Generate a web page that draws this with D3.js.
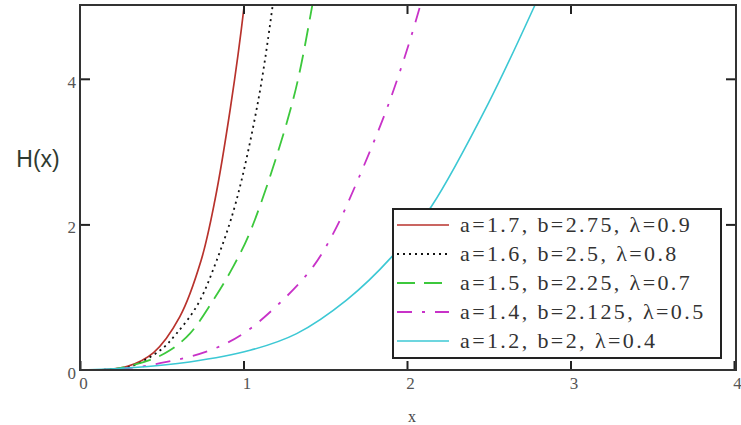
<!DOCTYPE html>
<html>
<head>
<meta charset="utf-8">
<script src="https://cdn.jsdelivr.net/npm/d3@7"></script>
<style>
  html, body { margin: 0; padding: 0; background: #fff; }
  svg { display: block; }
</style>
</head>
<body>
<svg id="chart" width="741" height="425"></svg>
<script>
// ---- data ----
const xTicks = [0, 1, 2, 3, 4];
const yTicks = [0, 2, 4];
const seriesLabels = [
  "a=1.7, b=2.75, \u03bb=0.9",
  "a=1.6, b=2.5, \u03bb=0.8",
  "a=1.5, b=2.25, \u03bb=0.7",
  "a=1.4, b=2.125, \u03bb=0.5",
  "a=1.2, b=2, \u03bb=0.4"
];
const red = [[0,0],[0.15,0.005],[0.29,0.05],[0.45,0.24],[0.61,0.73],[0.74,1.50],[0.825,2.33],[0.92,3.60],[1.004,5.0],[1.03,5.6]];
const black = [[0,0],[0.15,0.004],[0.3,0.04],[0.49,0.27],[0.59,0.50],[0.72,0.90],[0.835,1.50],[0.952,2.29],[1.09,3.70],[1.178,5.0],[1.2,5.4]];
const green = [[0,0],[0.2,0.01],[0.43,0.14],[0.55,0.27],[0.672,0.50],[0.815,0.96],[0.937,1.42],[1.05,1.95],[1.302,3.70],[1.42,5.0],[1.45,5.4]];
const magenta = [[0,0],[0.25,0.015],[0.53,0.11],[0.795,0.27],[0.998,0.50],[1.222,0.92],[1.426,1.42],[1.55,1.88],[1.645,2.33],[1.895,3.70],[2.08,5.0],[2.11,5.3]];
const cyan = [[0,0],[0.31,0.03],[0.67,0.11],[1.04,0.27],[1.325,0.50],[1.63,0.96],[1.905,1.55],[2.15,2.25],[2.506,3.70],[2.78,5.0],[2.82,5.2]];

const seriesData = [red, black, green, magenta, cyan];
const colors = ["#b8322c", "#111111", "#3cc83c", "#c832c8", "#3cc8d4"];
const dashes = [null, "2,4", "18,9", "15,10,3,10", null];
const widths = [1.7, 1.8, 1.8, 1.8, 1.6];

// ---- layout ----
const svg = d3.select("#chart");
const L = 80, R = 736, T = 5, B = 370;
const x = d3.scaleLinear().domain([0, 4]).range([L, 734]);
const y = d3.scaleLinear().domain([0, 5]).range([B, T + 1]);
const serif = "'Liberation Serif', 'Times New Roman', Times, serif";

svg.append("defs").append("clipPath").attr("id", "clip")
  .append("rect").attr("x", L).attr("y", T).attr("width", R - L).attr("height", B - T);

// curves
const line = d3.line().x(d => x(d[0])).y(d => y(d[1])).curve(d3.curveCatmullRom.alpha(0.5));
const g = svg.append("g").attr("clip-path", "url(#clip)");
seriesData.forEach((s, i) => {
  g.append("path").datum(s)
    .attr("d", line)
    .attr("fill", "none")
    .attr("stroke", colors[i])
    .attr("stroke-width", widths[i])
    .attr("stroke-dasharray", dashes[i]);
});

// axes
const tickCol = "#555";
const axB = svg.append("g").attr("transform", `translate(0,${B})`)
  .call(d3.axisBottom(x).tickValues(xTicks).tickSizeInner(-9).tickSizeOuter(0).tickPadding(7).tickFormat(d3.format("d")));
const axT = svg.append("g").attr("transform", `translate(0,${T})`)
  .call(d3.axisTop(x).tickValues(xTicks.slice(1, 4)).tickSizeInner(-9).tickSizeOuter(0).tickFormat(""));
const axL = svg.append("g").attr("transform", `translate(${L},0)`)
  .call(d3.axisLeft(y).tickValues(yTicks).tickSizeInner(-10).tickSizeOuter(0).tickPadding(4).tickFormat(d3.format("d")));
const axR = svg.append("g").attr("transform", `translate(${R},0)`)
  .call(d3.axisRight(y).tickValues(yTicks.slice(1)).tickSizeInner(-10).tickSizeOuter(0).tickFormat(""));
[axB, axT, axL, axR].forEach(a => {
  a.attr("font-family", serif).attr("font-size", 17);
  a.select(".domain").remove();
  a.selectAll(".tick line").attr("stroke", "#222").attr("stroke-width", 2);
  a.selectAll(".tick text")
    .attr("fill", tickCol)
    .attr("font-family", serif)
    .style("font-family", serif)
    .style("font-size", "17px");
});
axB.selectAll(".tick text").attr("dx", 3);
axL.selectAll(".tick text").attr("dy", "0.5em");
axL.selectAll(".tick line").filter(d => d === 0).remove();

// frame
svg.append("rect").attr("x", L).attr("y", T).attr("width", R - L).attr("height", B - T)
  .attr("fill", "none").attr("stroke", "#333").attr("stroke-width", 2);

// axis titles
svg.append("text").attr("x", 38).attr("y", 167).attr("text-anchor", "middle")
  .style("font-family", "'Liberation Sans', Arial, sans-serif").style("font-size", "23px")
  .attr("fill", "#2f3a30").text("H(x)");
svg.append("text").attr("x", 412).attr("y", 422).attr("text-anchor", "middle")
  .style("font-family", serif).style("font-size", "16px")
  .attr("fill", "#444").text("x");

// legend
const lg = svg.append("g");
lg.append("rect").attr("x", 393).attr("y", 209).attr("width", 328).attr("height", 149)
  .attr("fill", "#fff").attr("stroke", "#222").attr("stroke-width", 2);
seriesLabels.forEach((lab, i) => {
  const yy = 225 + i * 29;
  lg.append("line").attr("x1", 397).attr("x2", 449).attr("y1", yy).attr("y2", yy)
    .attr("stroke", colors[i]).attr("stroke-width", widths[i])
    .attr("stroke-dasharray", dashes[i]);
  lg.append("text").attr("x", 460).attr("y", yy + 7)
    .style("font-family", serif)
    .style("font-size", "22px").style("letter-spacing", "2.4px")
    .attr("fill", "#333").text(lab);
});
</script>
</body>
</html>
